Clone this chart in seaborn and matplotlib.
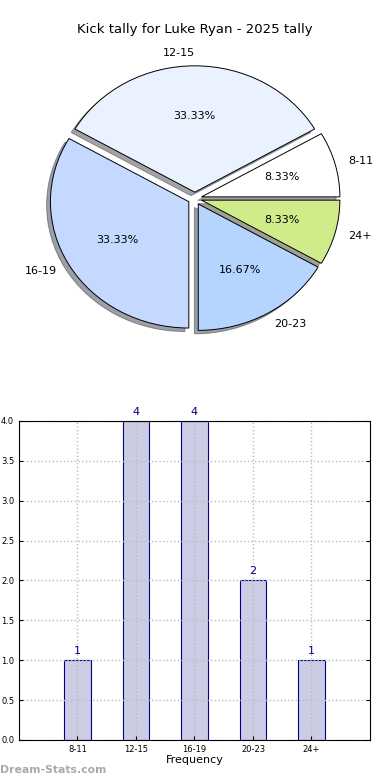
# Kick tally chart: pie of kick distances and a bar chart of the same counts

import matplotlib
matplotlib.use('Agg')
import matplotlib.pyplot as plt
import pandas as pd
import seaborn as sns

# data
categories = ['8-11', '12-15', '16-19', '20-23', '24+']
counts = [1, 4, 4, 2, 1]
pie_colors = ['#FFFFFF', '#EAF2FF', '#C5D8FF', '#B5D5FF', '#D0EB8A']
y_ticks = [0.0, 0.5, 1.0, 1.5, 2.0, 2.5, 3.0, 3.5, 4.0]

df = pd.DataFrame({'range': categories, 'count': counts})

sns.set_style('white')
plt.rcParams['font.family'] = ['DejaVu Sans']
plt.rcParams['text.color'] = 'black'
plt.rcParams['axes.labelcolor'] = 'black'
plt.rcParams['xtick.color'] = 'black'
plt.rcParams['ytick.color'] = 'black'

fig = plt.figure(figsize=(3.9, 7.8), dpi=100)

# Pie chart
ax1 = fig.add_axes([0.056, 0.543, 0.887, 0.405])
wedges, texts, autotexts = ax1.pie(
    df['count'], labels=df['range'], colors=pie_colors,
    explode=[0.05] * len(categories), shadow=True, startangle=0,
    autopct='%.2f%%', wedgeprops={'edgecolor': 'black', 'linewidth': 0.7},
    textprops={'fontsize': 8})
ax1.set_xlim(-1.25, 1.25)
ax1.set_ylim(-1.25, 1.25)
ax1.set_aspect('auto')
fig.text(0.5, 1 - 30 / 780, 'Kick tally for Luke Ryan - 2025 tally',
         ha='center', va='center', fontsize=9.5)

# Bar chart
ax2 = fig.add_axes([0.0487, 0.0513, 0.9, 0.409])
sns.barplot(data=df, x='range', y='count', ax=ax2, color='#CCCCE5',
            saturation=1, width=0.45, edgecolor='#00008B', linewidth=0.8,
            errorbar=None)
ax2.set_xlim(-1, 5)
ax2.set_ylim(0, 4)
ax2.set_yticks(y_ticks)
ax2.set_yticklabels(['%.1f' % t for t in y_ticks])
ax2.grid(True, color='#BBBBBB', linestyle=':', linewidth=1)
ax2.set_axisbelow(False)
ax2.tick_params(axis='both', labelsize=6, direction='in', length=3,
                right=True, left=True, bottom=True)
ax2.set_xlabel('Frequency', fontsize=8, labelpad=1)
ax2.set_ylabel('')
for s in ax2.spines.values():
    s.set_color('black')
    s.set_linewidth(0.8)
    s.set_zorder(5)
for i, c in enumerate(counts):
    ax2.text(i, c + 0.05, str(c), ha='center', va='bottom',
             color='#00008B', fontsize=8)

fig.text(0.0, 0.5 / 78, 'Dream-Stats.com', ha='left', va='bottom',
         color='#AAAAAA', fontsize=7.8, fontweight='bold')

fig.savefig('out.png', dpi=100)
